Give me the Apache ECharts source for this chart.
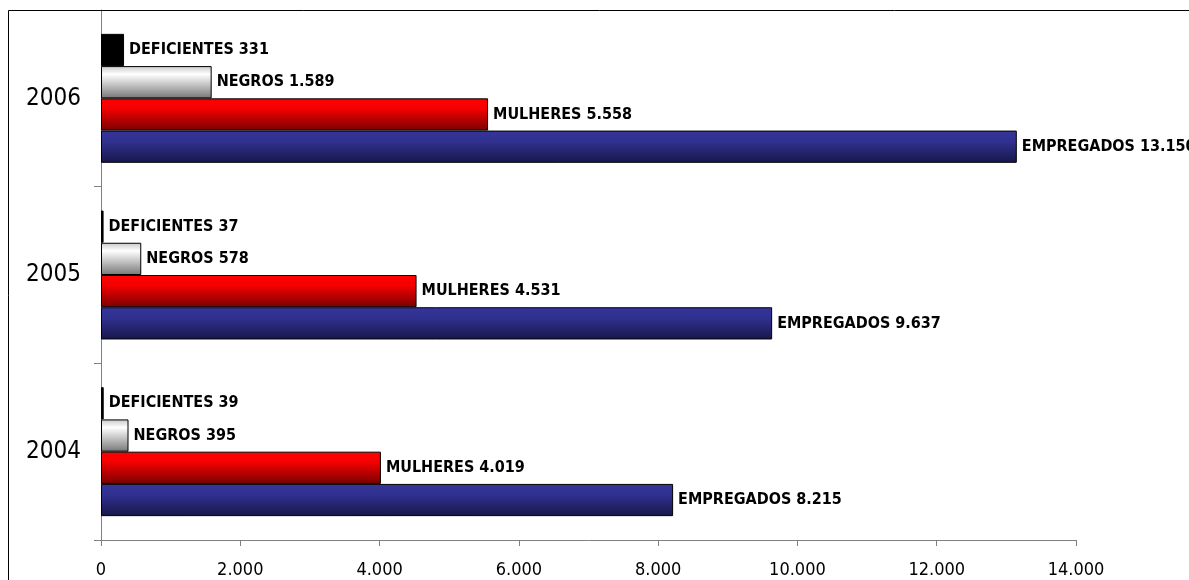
<!DOCTYPE html>
<html>
<head>
<meta charset="utf-8">
<script src="https://cdn.jsdelivr.net/npm/echarts@6/dist/echarts.min.js"></script>
<style>
  html, body { margin: 0; padding: 0; background: #ffffff; }
  #chart { width: 1189px; height: 580px; }
</style>
</head>
<body>
<div id="chart"></div>
<script>
// Anos (eixo de categorias, de baixo para cima)
const years = ['2004', '2005', '2006'];

// Valores por grupo
const empregados = [8215, 9637, 13150];
const mulheres = [4019, 4531, 5558];
const negros = [395, 578, 1589];
const deficientes = [39, 37, 331];

// Eixo de valores
const axisMin = 0;
const axisMax = 14000;
const axisStep = 2000;

// Separador de milhar no formato brasileiro
function fmt(v) {
  return String(v).replace(/\B(?=(\d{3})+(?!\d))/g, '.');
}

function vGrad(stops) {
  return new echarts.graphic.LinearGradient(0, 0, 0, 1,
    stops.map(function (s) { return { offset: s[0], color: s[1] }; }));
}

const labelStyle = {
  show: true,
  position: 'right',
  distance: 5,
  color: '#000000',
  fontFamily: '"DejaVu Sans Condensed", "DejaVu Sans", sans-serif',
  fontWeight: 'bold',
  fontSize: 16,
  formatter: function (p) { return p.seriesName + ' ' + fmt(p.value); }
};

function barSeries(name, data, color) {
  return {
    name: name,
    type: 'bar',
    data: data,
    barGap: '0%',
    barCategoryGap: '27%',
    itemStyle: { color: color, borderColor: '#000000', borderWidth: 1 },
    label: labelStyle,
    emphasis: { disabled: true }
  };
}

const chart = echarts.init(document.getElementById('chart'), null, { renderer: 'canvas' });

chart.setOption({
  animation: false,
  backgroundColor: '#ffffff',
  grid: { left: 101, top: 10, right: 113, bottom: 40, containLabel: false },
  xAxis: {
    type: 'value',
    min: axisMin,
    max: axisMax,
    interval: axisStep,
    axisLine: { show: true, lineStyle: { color: '#808080', width: 1 } },
    axisTick: { show: true, inside: false, length: 6, lineStyle: { color: '#808080' } },
    splitLine: { show: false },
    axisLabel: {
      margin: 21,
      color: '#000000',
      fontFamily: '"DejaVu Sans Condensed", "DejaVu Sans", sans-serif',
      fontSize: 18,
      formatter: function (v) { return fmt(v); }
    }
  },
  yAxis: {
    type: 'category',
    data: years,
    axisLine: { show: true, lineStyle: { color: '#808080', width: 1 } },
    axisTick: { show: true, inside: false, length: 7, lineStyle: { color: '#808080' } },
    axisLabel: {
      margin: 20,
      color: '#000000',
      fontFamily: '"DejaVu Sans Condensed", "DejaVu Sans", sans-serif',
      fontSize: 24
    }
  },
  graphic: [{
    type: 'rect',
    silent: true,
    z: 100,
    shape: { x: 8.5, y: 10.5, width: 1400, height: 800 },
    style: { fill: 'none', stroke: '#000000', lineWidth: 1 }
  }],
  // A primeira série fica no topo de cada grupo
  series: [
    barSeries('DEFICIENTES', deficientes, '#000000'),
    barSeries('NEGROS', negros, vGrad([[0, '#c8c8c8'], [0.25, '#ffffff'], [1, '#777777']])),
    barSeries('MULHERES', mulheres, vGrad([[0, '#ff0000'], [0.3, '#f80000'], [1, '#7a0000']])),
    barSeries('EMPREGADOS', empregados, vGrad([[0, '#35359b'], [0.35, '#30308f'], [1, '#17174a']]))
  ]
});
</script>
</body>
</html>
